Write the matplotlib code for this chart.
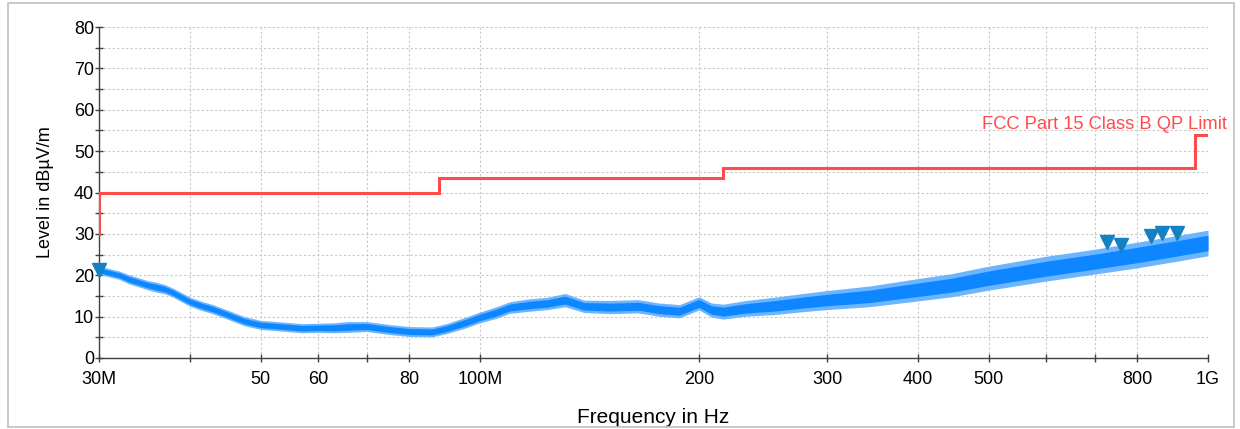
import matplotlib
matplotlib.use('Agg')
import matplotlib.pyplot as plt
import numpy as np
from matplotlib.ticker import FixedLocator, NullFormatter, FixedFormatter
from matplotlib.patches import Rectangle

plt.rcParams['font.family'] = ['Liberation Sans', 'DejaVu Sans']

freq_mhz = [30, 31, 32, 33, 34, 35, 36, 37, 38, 40, 41.5, 43, 45, 47.5, 50, 53.5, 57,
            60, 63, 66, 70, 75, 80, 86, 90, 95, 100, 105, 110, 117, 124, 131, 139,
            151, 165, 176, 188, 200, 208, 216, 232, 254, 278, 300, 343, 400, 445,
            500, 600, 700, 800, 900, 1000]
trace_db = [21.2, 20.6, 20.0, 19.0, 18.3, 17.6, 17.1, 16.6, 15.7, 13.6, 12.6, 11.8,
            10.5, 8.9, 8.0, 7.6, 7.2, 7.3, 7.3, 7.5, 7.6, 6.9, 6.4, 6.3, 7.1, 8.4,
            9.8, 10.9, 12.2, 12.8, 13.2, 14.0, 12.5, 12.3, 12.5, 11.7, 11.3, 13.2,
            11.6, 11.2, 12.0, 12.6, 13.4, 14.0, 14.9, 16.5, 17.6, 19.3, 21.6, 23.3,
            24.9, 26.4, 27.8]
ripple_db = [1.0, 1.0, 1.0, 1.1, 1.1, 1.1, 1.2, 1.1, 1.1, 1.1, 1.1, 1.1, 1.1, 1.1,
             1.1, 1.1, 1.1, 1.1, 1.2, 1.3, 1.2, 1.2, 1.2, 1.2, 1.2, 1.3, 1.3, 1.4,
             1.4, 1.5, 1.5, 1.6, 1.5, 1.6, 1.6, 1.6, 1.6, 1.6, 1.7, 1.8, 1.9, 2.1,
             2.2, 2.3, 2.5, 2.7, 2.8, 2.9, 3.0, 3.0, 3.1, 3.1, 3.1]

# FCC Part 15 Class B QP limit (step line)
limit_mhz = [30, 30, 88, 88, 216, 216, 960, 960, 1000]
limit_db = [30, 40, 40, 43.5, 43.5, 46, 46, 54, 54]

# Peak markers
peak_mhz = [30, 727, 760, 835, 865, 907]
peak_db = [21.3, 28.0, 27.3, 29.5, 30.2, 30.2]

xtick_major = [30, 50, 60, 80, 100, 200, 300, 400, 500, 800, 1000]
xtick_labels = ['30M', '50', '60', '80', '100M', '200', '300', '400', '500', '800', '1G']
xtick_minor = [40, 70, 600, 700]

fig = plt.figure(figsize=(12.4, 4.29), dpi=100)
ax = fig.add_axes([99 / 1240, 1 - 358 / 429, 1109 / 1240, 331 / 429])

f = np.array(freq_mhz)
c = np.array(trace_db)
r = np.array(ripple_db)
ax.fill_between(f, c - r, c + r, color='#6cb5ff', lw=0, zorder=3)
ax.fill_between(f, c - 0.6 * r, c + 0.6 * r, color='#0d86ff', lw=0, zorder=4)

ax.plot(limit_mhz, limit_db, color='#ff4b4b', lw=2.2, zorder=5, solid_joinstyle='miter')
ax.plot(peak_mhz, peak_db, 'v', color='#1580c4', ms=10, zorder=6, clip_on=False)

ax.text(1.017, 55.3, 'FCC Part 15 Class B QP Limit', color='#ff4b4b', fontsize=13.2,
        ha='right', va='baseline', transform=ax.get_yaxis_transform(), zorder=7)

ax.set_xscale('log')
ax.set_xlim(30, 1000)
ax.set_ylim(0, 80)
ax.xaxis.set_major_locator(FixedLocator(xtick_major))
ax.xaxis.set_major_formatter(FixedFormatter(xtick_labels))
ax.xaxis.set_minor_locator(FixedLocator(xtick_minor))
ax.xaxis.set_minor_formatter(NullFormatter())
ax.set_yticks(range(0, 81, 10))
ax.set_yticks(range(5, 80, 10), minor=True)

ax.grid(True, which='both', color='#c8c8c8', linestyle=(0, (2, 2)), lw=0.8, zorder=0)
ax.set_axisbelow(True)
for s in ['top', 'right']:
    ax.spines[s].set_visible(False)
for s in ['left', 'bottom']:
    ax.spines[s].set_color('#404040')
    ax.spines[s].set_linewidth(1.0)
ax.tick_params(which='both', direction='inout', length=6, width=1.0, color='#404040',
               labelsize=13, labelcolor='black')
ax.tick_params(axis='x', pad=6)
ax.tick_params(axis='y', pad=0.5)

ax.set_xlabel('Frequency in Hz', fontsize=15, labelpad=15)
ax.set_ylabel('Level in dBµV/m', fontsize=13, labelpad=14)

fig.patches.append(Rectangle((8 / 1240, 2 / 429), 1226 / 1240, 424 / 429, transform=fig.transFigure,
                             fill=False, edgecolor='#c0c0c0', lw=1.2))

fig.savefig('out.png', dpi=100)
